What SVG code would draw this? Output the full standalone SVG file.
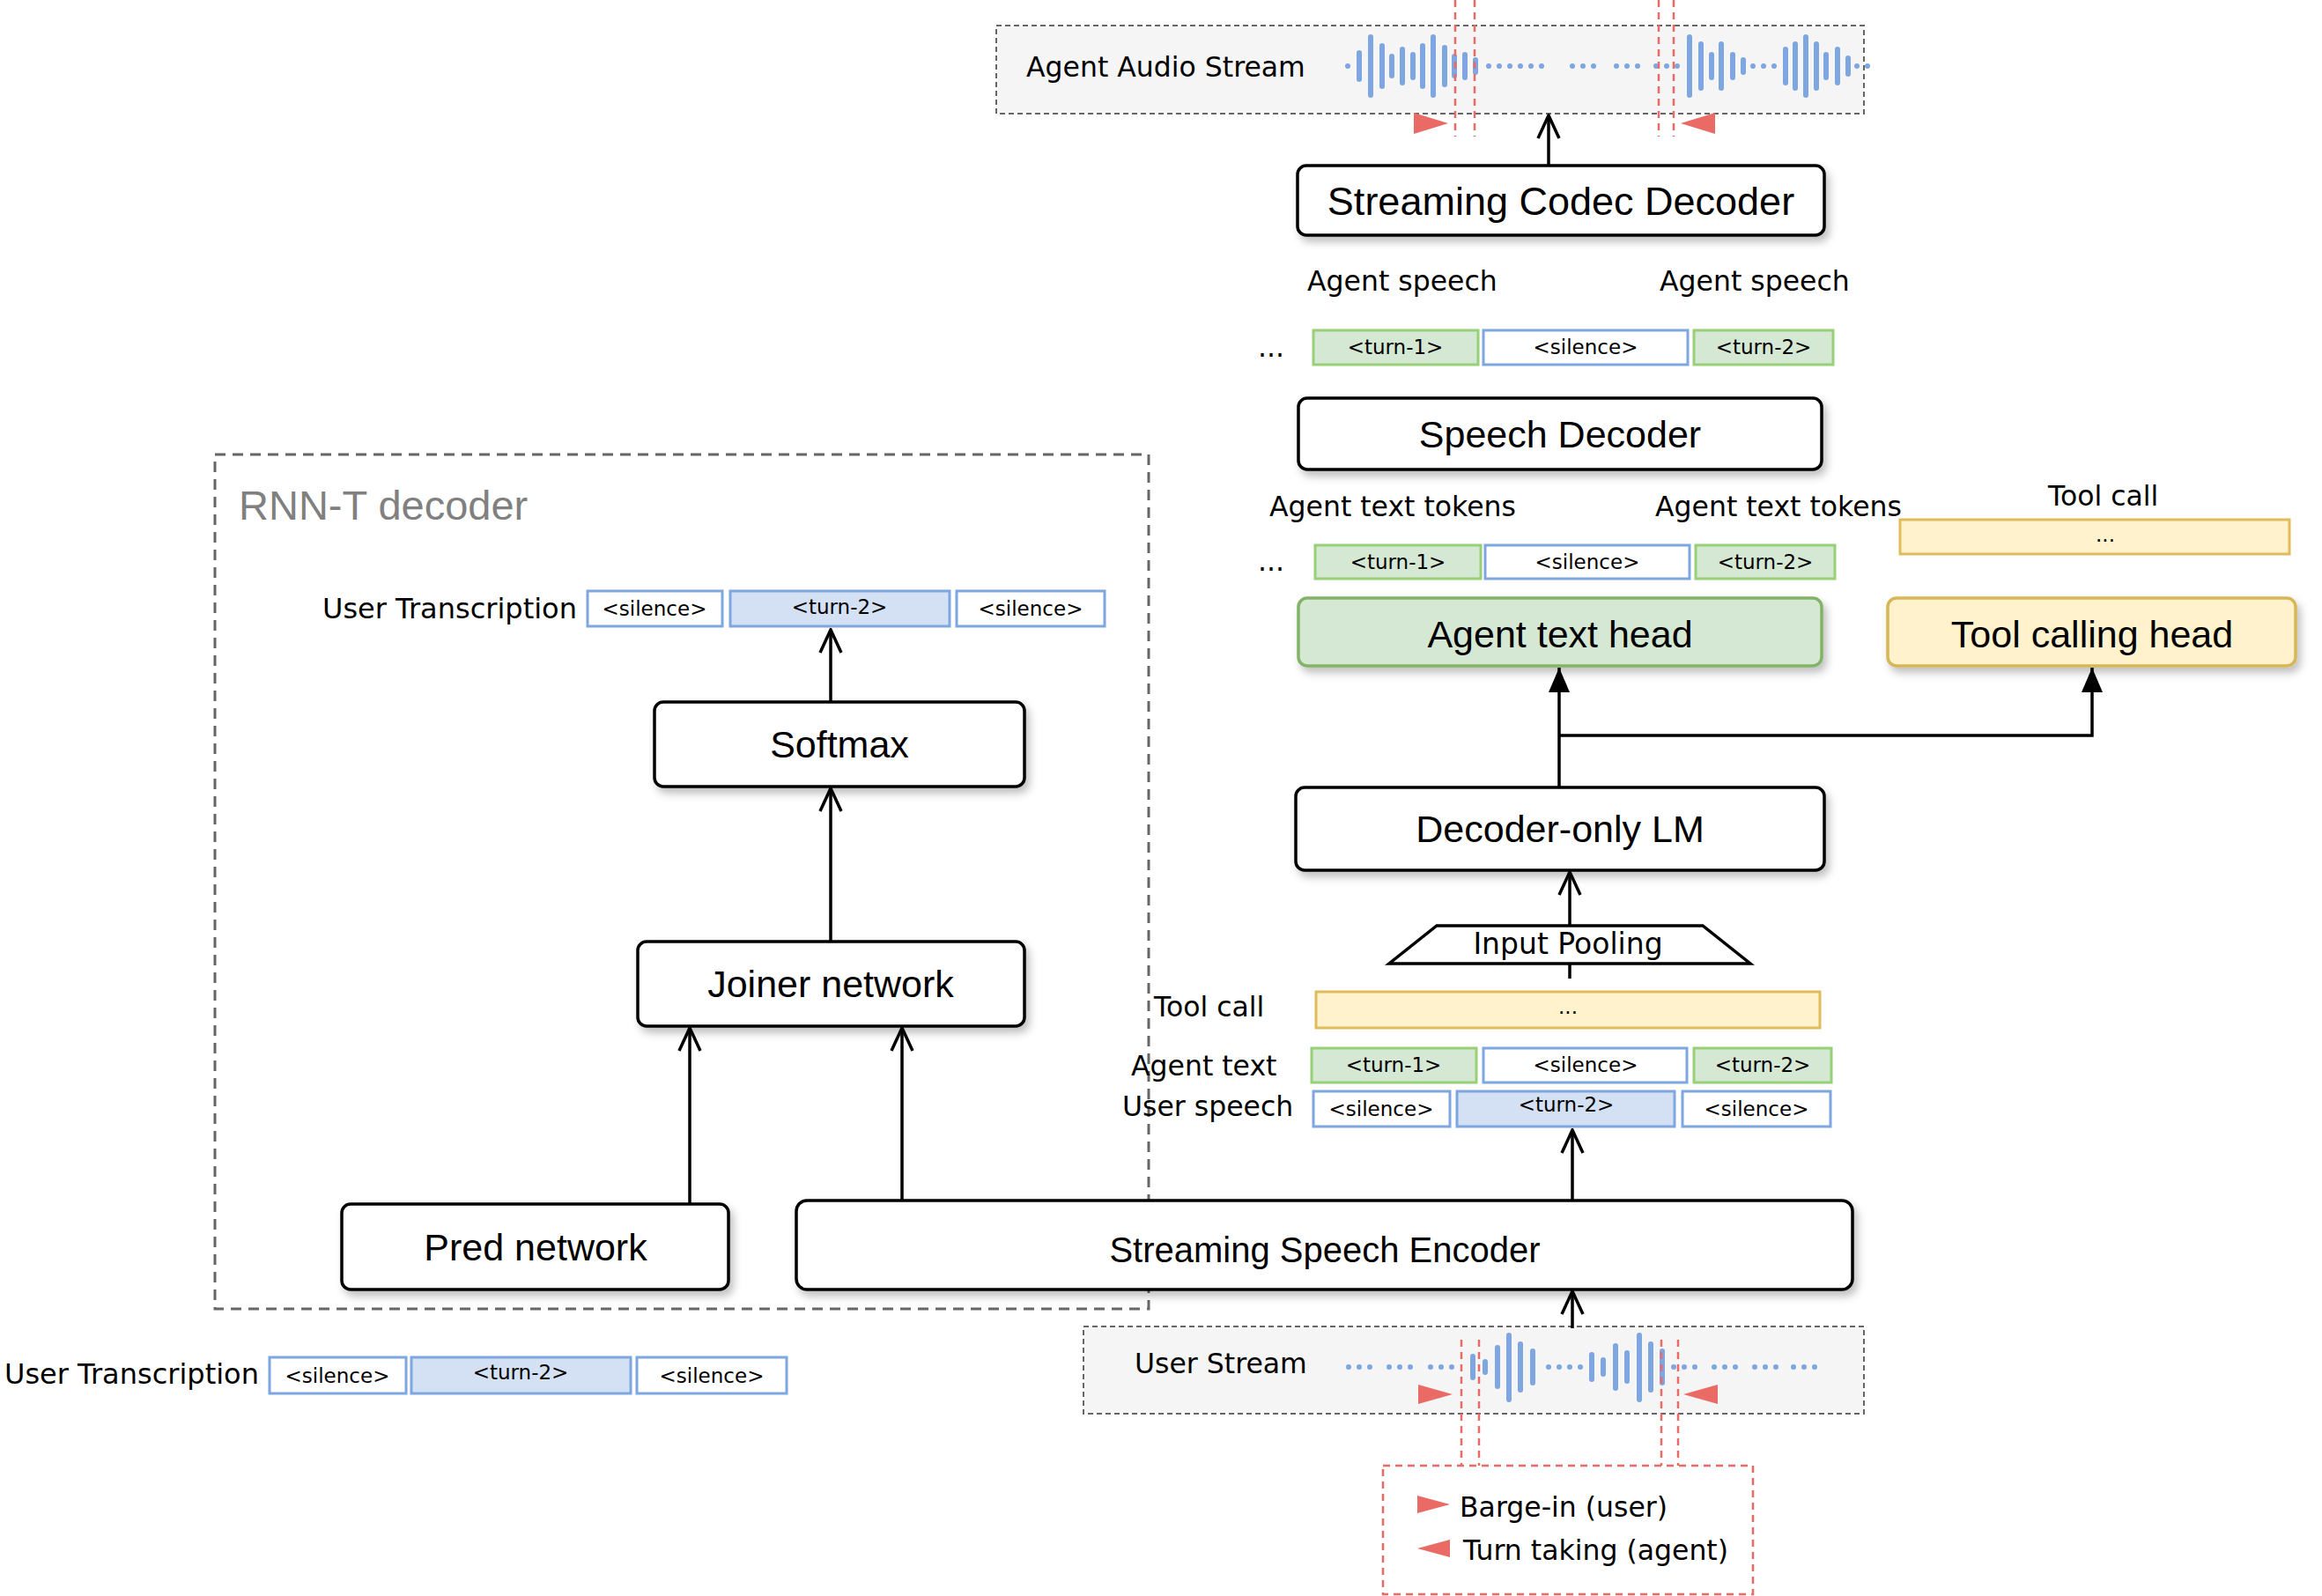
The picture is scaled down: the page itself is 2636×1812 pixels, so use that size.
<svg xmlns="http://www.w3.org/2000/svg" width="2636" height="1812" viewBox="0 0 2636 1812">
<style>
.box{fill:#fff;stroke:#000;stroke-width:3.5}
.bt{font-family:"Liberation Sans",Arial,sans-serif;font-size:43px;text-anchor:middle;dominant-baseline:central;fill:#000}
.lb{font-family:"DejaVu Sans",sans-serif;font-size:31.5px;fill:#000;dominant-baseline:central}
.tk{font-family:"DejaVu Sans",sans-serif;font-size:23px;text-anchor:middle;dominant-baseline:central;fill:#000}
.g{fill:#d5e8d4;stroke:#97d077;stroke-width:3}
.b{fill:#fff;stroke:#7ea6e0;stroke-width:3}
.bf{fill:#d4e1f5;stroke:#7ea6e0;stroke-width:3}
.y{fill:#fff2cc;stroke:#e0bd5a;stroke-width:3}
.c{fill:none;stroke:#000;stroke-width:3.5}
.rd{fill:none;stroke:#ea6b66;stroke-width:2.5;stroke-dasharray:8 6}
.wv{stroke:#7ea6e0;stroke-width:6;stroke-linecap:round}
.dt{stroke:#7ea6e0;stroke-width:6;stroke-linecap:round;stroke-dasharray:0 12}
.tri{fill:#ea6b66}
</style>
<defs>
<filter id="sh" x="-10%" y="-30%" width="130%" height="180%"><feDropShadow dx="4" dy="6" stdDeviation="5" flood-color="#000" flood-opacity="0.25"/></filter>
<marker id="ao" viewBox="0 0 30 30" refX="28" refY="15" markerWidth="30" markerHeight="30" markerUnits="userSpaceOnUse" orient="auto"><path d="M2,3 L28,15 L2,27" fill="none" stroke="#000" stroke-width="3.5"/></marker>
<marker id="af" viewBox="0 0 30 30" refX="28" refY="15" markerWidth="30" markerHeight="30" markerUnits="userSpaceOnUse" orient="auto"><path d="M0,3 L28,15 L0,27 Z" fill="#000"/></marker>
</defs>

<g id="rnnt-frame">
<rect x="244" y="516" width="1060" height="970" fill="none" stroke="#666" stroke-width="3" stroke-dasharray="12 8"/>
<text x="271" y="573" style="font-family:'Liberation Sans',Arial,sans-serif;font-size:47px;fill:#808080;dominant-baseline:central">RNN-T decoder</text>
</g>

<g id="agent-audio">
<rect x="1131" y="29" width="985" height="100" fill="#f5f5f5" stroke="#666" stroke-width="2" stroke-dasharray="6 4"/>
<text class="lb" x="1165" y="76">Agent Audio Stream</text>
<line class="dt" x1="1530" y1="75" x2="1536" y2="75"/>
<g class="wv">
<line x1="1543" y1="60" x2="1543" y2="90"/><line x1="1556" y1="42" x2="1556" y2="108"/><line x1="1569" y1="52" x2="1569" y2="98"/><line x1="1580" y1="64" x2="1580" y2="86"/><line x1="1592" y1="56" x2="1592" y2="94"/><line x1="1604" y1="62" x2="1604" y2="88"/><line x1="1615" y1="52" x2="1615" y2="98"/><line x1="1627" y1="42" x2="1627" y2="108"/><line x1="1640" y1="54" x2="1640" y2="96"/><line x1="1651" y1="64" x2="1651" y2="86"/><line x1="1663" y1="62" x2="1663" y2="88"/><line x1="1675" y1="68" x2="1675" y2="82"/>
<line x1="1918" y1="42" x2="1918" y2="108"/><line x1="1931" y1="50" x2="1931" y2="100"/><line x1="1943" y1="62" x2="1943" y2="88"/><line x1="1954" y1="50" x2="1954" y2="100"/><line x1="1967" y1="62" x2="1967" y2="88"/><line x1="1979" y1="68" x2="1979" y2="82"/>
<line x1="2027" y1="56" x2="2027" y2="94"/><line x1="2038" y1="50" x2="2038" y2="100"/><line x1="2050" y1="42" x2="2050" y2="108"/><line x1="2062" y1="50" x2="2062" y2="100"/><line x1="2073" y1="62" x2="2073" y2="88"/><line x1="2086" y1="56" x2="2086" y2="94"/><line x1="2098" y1="66" x2="2098" y2="84"/>
</g>
<line class="dt" x1="1690" y1="75" x2="1760" y2="75"/><line class="dt" x1="1785" y1="75" x2="1820" y2="75"/><line class="dt" x1="1835" y1="75" x2="1860" y2="75"/><line class="dt" x1="1880" y1="75" x2="1905" y2="75"/>
<line class="dt" x1="1990" y1="75" x2="2015" y2="75"/><line class="dt" x1="2108" y1="75" x2="2124" y2="75"/>
<line class="rd" x1="1652" y1="0" x2="1652" y2="155"/><line class="rd" x1="1674" y1="0" x2="1674" y2="155"/>
<line class="rd" x1="1883" y1="0" x2="1883" y2="155"/><line class="rd" x1="1900" y1="0" x2="1900" y2="155"/>
<path class="tri" d="M1605,128 L1644,140 L1605,152 Z"/>
<path class="tri" d="M1947,128 L1908,140 L1947,152 Z"/>
</g>

<g id="codec-decoder"><rect class="box" filter="url(#sh)" x="1473" y="188" width="598" height="79" rx="10"/><text class="bt" x="1772" y="228" style="font-size:45px">Streaming Codec Decoder</text></g>

<text class="lb" x="1484" y="319">Agent speech</text>
<text class="lb" x="1884" y="319">Agent speech</text>
<text class="lb" x="1428" y="394">...</text>
<g id="speech-tokens">
<rect class="g" x="1491" y="375" width="187" height="39"/><text class="tk" x="1584" y="394">&lt;turn-1&gt;</text>
<rect class="b" x="1684" y="375" width="232" height="39"/><text class="tk" x="1800" y="394">&lt;silence&gt;</text>
<rect class="g" x="1923" y="375" width="158" height="39"/><text class="tk" x="2002" y="394">&lt;turn-2&gt;</text>
</g>

<g id="speech-decoder"><rect class="box" filter="url(#sh)" x="1474" y="452" width="594" height="81" rx="10"/><text class="bt" x="1771" y="493">Speech Decoder</text></g>

<text class="lb" x="1441" y="575">Agent text tokens</text>
<text class="lb" x="1879" y="575">Agent text tokens</text>
<text class="lb" x="2325" y="563">Tool call</text>
<g id="tool-call-top"><rect class="y" x="2157" y="590" width="442" height="39"/><text class="tk" x="2390" y="607">...</text></g>
<text class="lb" x="1428" y="637">...</text>
<g id="text-tokens">
<rect class="g" x="1493" y="619" width="188" height="38"/><text class="tk" x="1587" y="638">&lt;turn-1&gt;</text>
<rect class="b" x="1686" y="619" width="232" height="38"/><text class="tk" x="1802" y="638">&lt;silence&gt;</text>
<rect class="g" x="1925" y="619" width="158" height="38"/><text class="tk" x="2004" y="638">&lt;turn-2&gt;</text>
</g>

<g id="agent-text-head"><rect filter="url(#sh)" x="1474" y="679" width="594" height="77" rx="10" fill="#d5e8d4" stroke="#82b366" stroke-width="3.5"/><text class="bt" x="1771" y="720">Agent text head</text></g>
<g id="tool-calling-head"><rect filter="url(#sh)" x="2143" y="679" width="463" height="77" rx="10" fill="#fff2cc" stroke="#d6b656" stroke-width="3.5"/><text class="bt" x="2375" y="720">Tool calling head</text></g>

<g id="decoder-lm"><rect class="box" filter="url(#sh)" x="1471" y="894" width="600" height="94" rx="10"/><text class="bt" x="1771" y="941">Decoder-only LM</text></g>

<g id="input-pooling"><path d="M1631,1051 L1933,1051 L1987,1094 L1577,1094 Z" fill="#fff" stroke="#000" stroke-width="3.5"/><text x="1780" y="1071" style="font-family:'DejaVu Sans',sans-serif;font-size:33px;text-anchor:middle;dominant-baseline:central">Input Pooling</text></g>

<text class="lb" x="1310" y="1143">Tool call</text>
<text class="lb" x="1284" y="1210">Agent text</text>
<text class="lb" x="1274" y="1256">User speech</text>
<g id="input-tokens">
<rect class="y" x="1494" y="1126" width="572" height="41"/><text class="tk" x="1780" y="1143">...</text>
<rect class="g" x="1489" y="1190" width="187" height="39"/><text class="tk" x="1582" y="1209">&lt;turn-1&gt;</text>
<rect class="b" x="1684" y="1190" width="231" height="39"/><text class="tk" x="1800" y="1209">&lt;silence&gt;</text>
<rect class="g" x="1923" y="1190" width="156" height="39"/><text class="tk" x="2001" y="1209">&lt;turn-2&gt;</text>
<rect class="b" x="1491" y="1239" width="155" height="40"/><text class="tk" x="1568" y="1259">&lt;silence&gt;</text>
<rect class="bf" x="1654" y="1239" width="247" height="40"/><text class="tk" x="1778" y="1254">&lt;turn-2&gt;</text>
<rect class="b" x="1910" y="1239" width="168" height="40"/><text class="tk" x="1994" y="1259">&lt;silence&gt;</text>
</g>

<g id="speech-encoder"><rect class="box" filter="url(#sh)" x="904" y="1363" width="1199" height="101" rx="12"/><text class="bt" x="1504" y="1419" style="font-size:40px">Streaming Speech Encoder</text></g>

<g id="user-stream">
<rect x="1230" y="1506" width="886" height="99" fill="#f5f5f5" stroke="#666" stroke-width="2" stroke-dasharray="6 4"/>
<text class="lb" x="1288" y="1548">User Stream</text>
<line class="dt" x1="1531" y1="1552" x2="1560" y2="1552"/><line class="dt" x1="1577" y1="1552" x2="1606" y2="1552"/><line class="dt" x1="1624" y1="1552" x2="1657" y2="1552"/>
<g class="wv">
<line x1="1672" y1="1540" x2="1672" y2="1564"/><line x1="1686" y1="1546" x2="1686" y2="1558"/><line x1="1700" y1="1530" x2="1700" y2="1574"/><line x1="1713" y1="1516" x2="1713" y2="1589"/><line x1="1726" y1="1526" x2="1726" y2="1578"/><line x1="1740" y1="1534" x2="1740" y2="1570"/>
<line x1="1807" y1="1538" x2="1807" y2="1566"/><line x1="1820" y1="1544" x2="1820" y2="1560"/><line x1="1834" y1="1528" x2="1834" y2="1576"/><line x1="1847" y1="1536" x2="1847" y2="1568"/><line x1="1861" y1="1516" x2="1861" y2="1589"/><line x1="1874" y1="1526" x2="1874" y2="1578"/><line x1="1887" y1="1534" x2="1887" y2="1570"/>
</g>
<line class="dt" x1="1758" y1="1552" x2="1796" y2="1552"/>
<line class="dt" x1="1900" y1="1552" x2="1930" y2="1552"/><line class="dt" x1="1946" y1="1552" x2="1975" y2="1552"/><line class="dt" x1="1992" y1="1552" x2="2020" y2="1552"/><line class="dt" x1="2036" y1="1552" x2="2065" y2="1552"/>
<line class="rd" x1="1659" y1="1521" x2="1659" y2="1664"/><line class="rd" x1="1679" y1="1521" x2="1679" y2="1664"/>
<line class="rd" x1="1886" y1="1521" x2="1886" y2="1664"/><line class="rd" x1="1905" y1="1521" x2="1905" y2="1664"/>
<path class="tri" d="M1610,1572 L1649,1583 L1610,1594 Z"/>
<path class="tri" d="M1950,1572 L1911,1583 L1950,1594 Z"/>
</g>

<g id="legend">
<rect class="rd" x="1570" y="1664" width="420" height="146"/>
<path class="tri" d="M1609,1698 L1646,1708 L1609,1718 Z"/>
<text class="lb" x="1657" y="1711">Barge-in (user)</text>
<path class="tri" d="M1646,1748 L1609,1758 L1646,1768 Z"/>
<text class="lb" x="1661" y="1760">Turn taking (agent)</text>
</g>

<text class="lb" x="366" y="691" style="font-size:32px">User Transcription</text>
<g id="rnnt-tokens">
<rect class="b" x="667" y="671" width="153" height="40"/><text class="tk" x="743" y="691">&lt;silence&gt;</text>
<rect class="bf" x="829" y="671" width="249" height="40"/><text class="tk" x="953" y="689">&lt;turn-2&gt;</text>
<rect class="b" x="1086" y="671" width="168" height="40"/><text class="tk" x="1170" y="691">&lt;silence&gt;</text>
</g>

<g id="softmax"><rect class="box" filter="url(#sh)" x="743" y="797" width="420" height="96" rx="10"/><text class="bt" x="953" y="845">Softmax</text></g>
<g id="joiner"><rect class="box" filter="url(#sh)" x="724" y="1069" width="439" height="96" rx="10"/><text class="bt" x="943" y="1117">Joiner network</text></g>
<g id="pred"><rect class="box" filter="url(#sh)" x="388" y="1367" width="439" height="97" rx="10"/><text class="bt" x="608" y="1416">Pred network</text></g>

<text class="lb" x="5" y="1560" style="font-size:32px">User Transcription</text>
<g id="bottom-tokens">
<rect class="b" x="306" y="1541" width="155" height="41"/><text class="tk" x="383" y="1562">&lt;silence&gt;</text>
<rect class="bf" x="467" y="1541" width="249" height="41"/><text class="tk" x="591" y="1558">&lt;turn-2&gt;</text>
<rect class="b" x="723" y="1541" width="170" height="41"/><text class="tk" x="808" y="1562">&lt;silence&gt;</text>
</g>

<g id="connectors">
<line class="c" x1="1758" y1="188" x2="1758" y2="131" marker-end="url(#ao)"/>
<line class="c" x1="1770" y1="894" x2="1770" y2="758" marker-end="url(#af)"/>
<path class="c" d="M1770,835 L2375,835 L2375,758" marker-end="url(#af)"/>
<line class="c" x1="1782" y1="1051" x2="1782" y2="990" marker-end="url(#ao)"/>
<line class="c" x1="1782" y1="1094" x2="1782" y2="1111"/>
<line class="c" x1="1785" y1="1363" x2="1785" y2="1283" marker-end="url(#ao)"/>
<line class="c" x1="1785" y1="1508" x2="1785" y2="1466" marker-end="url(#ao)"/>
<line class="c" x1="943" y1="797" x2="943" y2="715" marker-end="url(#ao)"/>
<line class="c" x1="943" y1="1069" x2="943" y2="895" marker-end="url(#ao)"/>
<line class="c" x1="783" y1="1367" x2="783" y2="1167" marker-end="url(#ao)"/>
<line class="c" x1="1024" y1="1363" x2="1024" y2="1167" marker-end="url(#ao)"/>
</g>
</svg>
